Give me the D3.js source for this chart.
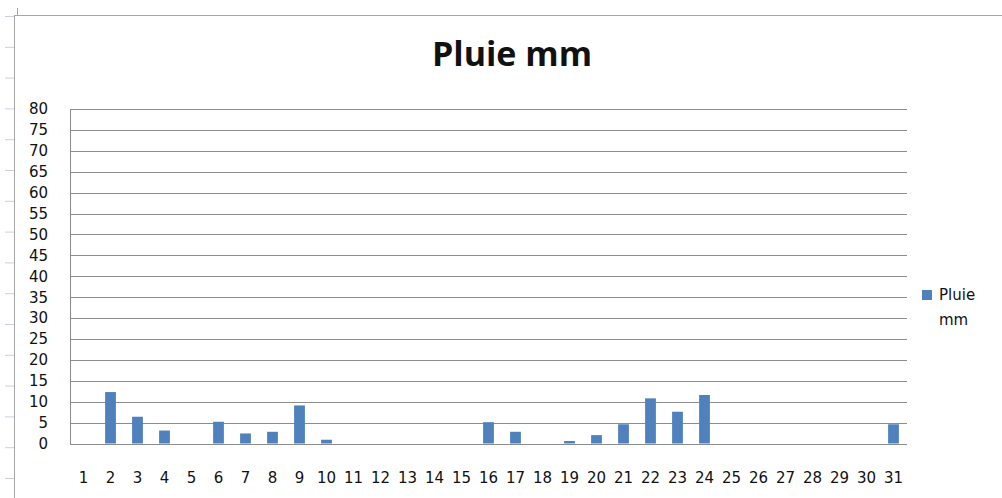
<!DOCTYPE html>
<html lang="fr">
<head>
  <meta charset="UTF-8" />
  <title>Pluie mm</title>
  <script src="https://d3js.org/d3.v7.min.js"></script>
  <style>
    body { margin: 0; background: #fff; }
    svg { display: block; }
    text { font-family: "DejaVu Sans", Verdana, sans-serif; fill: #111; }
    .title { font-family: "Open Sans", "DejaVu Sans", sans-serif; font-weight: bold; font-size: 34px; }
    .grid line { stroke: #8c8c8c; stroke-width: 1; }
    .bar { fill: #4f81bd; }
  </style>
</head>
<body>
<svg id="chart" width="1002" height="498"></svg>

<script>
// data
const days = d3.range(1, 32).map(String);
const rain = [0, 12.3, 6.4, 3.1, 0, 5.2, 2.4, 2.8, 9.1, 0.9,
              0, 0, 0, 0, 0, 5.1, 2.8, 0, 0.6, 2.0,
              4.6, 10.8, 7.6, 11.6, 0, 0, 0, 0, 0, 0, 4.6];
const yTicks = d3.range(0, 81, 5);
const seriesName = "Pluie mm";

const svg = d3.select("#chart");
const margin = { top: 109, right: 95, bottom: 54.5, left: 70 };
const W = +svg.attr("width"), H = +svg.attr("height");

// spreadsheet frame bits behind the chart
svg.append("line").attr("x1", 14.5).attr("x2", 14.5).attr("y1", 15).attr("y2", H)
  .attr("stroke", "#a6a6a6");
svg.append("line").attr("x1", 14).attr("x2", W).attr("y1", 15.5).attr("y2", 15.5)
  .attr("stroke", "#a6a6a6");
svg.append("line").attr("x1", 17.5).attr("x2", 17.5).attr("y1", 8).attr("y2", 15)
  .attr("stroke", "#a6a6a6");
svg.selectAll(".rowtick").data(d3.range(16)).enter().append("line")
  .attr("x1", 5).attr("x2", 14)
  .attr("y1", i => 16.5 + i * 30.8).attr("y2", i => 16.5 + i * 30.8)
  .attr("stroke", "#c9d0dc");

const x = d3.scaleBand()
  .domain(days)
  .range([margin.left, W - margin.right])
  .paddingInner(0.6)
  .paddingOuter(0.3);

const y = d3.scaleLinear()
  .domain([0, 80])
  .range([H - margin.bottom, margin.top]);

// gridlines
const grid = svg.append("g").attr("class", "grid");
grid.selectAll("line.h").data(yTicks).enter().append("line")
  .attr("class", "h")
  .attr("x1", margin.left).attr("x2", W - margin.right)
  .attr("y1", d => Math.round(y(d)) + 0.5).attr("y2", d => Math.round(y(d)) + 0.5);
grid.append("line")
  .attr("x1", margin.left + 0.5).attr("x2", margin.left + 0.5)
  .attr("y1", Math.round(y(80)) + 0.5).attr("y2", Math.round(y(0)) + 0.5);

// y labels
svg.append("g").selectAll("text").data(yTicks).enter().append("text")
  .attr("x", 48).attr("y", d => y(d))
  .attr("dy", "0.36em")
  .attr("text-anchor", "end")
  .style("font-size", "15px")
  .text(d => d);

// bars
svg.append("g").selectAll("rect").data(rain).enter().append("rect")
  .attr("class", "bar")
  .attr("x", (d, i) => x(days[i]))
  .attr("width", x.bandwidth())
  .attr("y", d => y(d))
  .attr("height", d => y(0) - y(d));

// x labels
svg.append("g").selectAll("text").data(days).enter().append("text")
  .attr("x", d => x(d) + x.bandwidth() / 2)
  .attr("y", 478)
  .attr("dy", "0.36em")
  .attr("text-anchor", "middle")
  .style("font-size", "15px")
  .text(d => d);

// title
svg.append("text").attr("class", "title")
  .attr("x", 512).attr("y", 66)
  .attr("text-anchor", "middle")
  .text(seriesName);

// legend
const lg = svg.append("g").attr("transform", "translate(922,290)");
lg.append("rect").attr("class", "bar").attr("width", 10).attr("height", 10);
lg.append("text").attr("x", 17).attr("y", 5).attr("dy", "0.36em")
  .style("font-size", "15px").text(seriesName.split(" ")[0]);
lg.append("text").attr("x", 17).attr("y", 30).attr("dy", "0.36em")
  .style("font-size", "15px").text(seriesName.split(" ")[1]);
</script>
</body>
</html>
